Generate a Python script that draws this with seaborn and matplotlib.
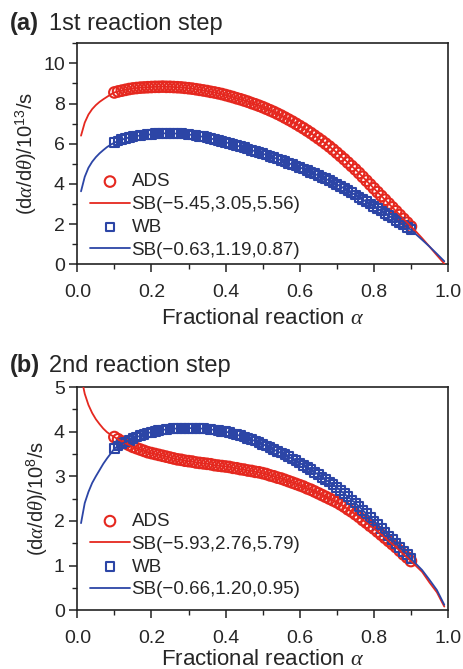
import numpy as np
import pandas as pd
import matplotlib
matplotlib.use("Agg")
import matplotlib.pyplot as plt
from matplotlib.ticker import MultipleLocator, FormatStrFormatter
import seaborn as sns

# ---------------------------------------------------------------------------
# Values
# ---------------------------------------------------------------------------
# marker positions (fractional reaction alpha), 0.10 .. 0.90 every 0.01
alpha = np.round(np.linspace(0.10, 0.90, 81), 2)

# (a) 1st reaction step, rate in 1e13 /s
ads_a = [8.55, 8.60, 8.64, 8.68, 8.72, 8.75, 8.77, 8.79, 8.80, 8.81,
         8.82, 8.83, 8.83, 8.84, 8.83, 8.83, 8.82, 8.81, 8.80, 8.78,
         8.76, 8.74, 8.71, 8.68, 8.65, 8.62, 8.58, 8.55, 8.51, 8.47,
         8.42, 8.37, 8.32, 8.26, 8.21, 8.15, 8.09, 8.02, 7.96, 7.89,
         7.82, 7.74, 7.66, 7.58, 7.49, 7.40, 7.30, 7.20, 7.10, 6.99,
         6.88, 6.77, 6.65, 6.53, 6.40, 6.27, 6.14, 6.00, 5.86, 5.71,
         5.55, 5.39, 5.23, 5.06, 4.89, 4.72, 4.54, 4.35, 4.16, 3.97,
         3.78, 3.59, 3.40, 3.21, 3.02, 2.83, 2.64, 2.45, 2.26, 2.07,
         1.88]
wb_a = [6.05, 6.13, 6.20, 6.26, 6.31, 6.35, 6.38, 6.41, 6.43, 6.45,
        6.47, 6.49, 6.50, 6.51, 6.52, 6.52, 6.51, 6.50, 6.49, 6.48,
        6.46, 6.43, 6.40, 6.37, 6.34, 6.30, 6.26, 6.21, 6.17, 6.12,
        6.07, 6.02, 5.96, 5.91, 5.85, 5.80, 5.74, 5.68, 5.62, 5.56,
        5.50, 5.44, 5.37, 5.31, 5.24, 5.17, 5.10, 5.03, 4.96, 4.89,
        4.82, 4.74, 4.66, 4.58, 4.50, 4.42, 4.33, 4.25, 4.16, 4.07,
        3.98, 3.88, 3.77, 3.67, 3.56, 3.45, 3.34, 3.22, 3.11, 3.00,
        2.88, 2.76, 2.65, 2.53, 2.42, 2.30, 2.18, 2.07, 1.95, 1.84,
        1.72]

# (b) 2nd reaction step, rate in 1e8 /s
ads_b = [3.88, 3.83, 3.78, 3.74, 3.70, 3.66, 3.63, 3.60, 3.57, 3.54,
         3.52, 3.50, 3.48, 3.46, 3.44, 3.42, 3.40, 3.38, 3.37, 3.35,
         3.34, 3.33, 3.31, 3.30, 3.29, 3.28, 3.27, 3.25, 3.24, 3.23,
         3.22, 3.21, 3.19, 3.18, 3.16, 3.15, 3.13, 3.12, 3.10, 3.09,
         3.07, 3.05, 3.02, 3.00, 2.97, 2.95, 2.92, 2.89, 2.86, 2.83,
         2.80, 2.77, 2.73, 2.70, 2.66, 2.62, 2.58, 2.54, 2.50, 2.46,
         2.42, 2.37, 2.32, 2.26, 2.21, 2.15, 2.09, 2.02, 1.96, 1.89,
         1.83, 1.76, 1.69, 1.62, 1.55, 1.48, 1.41, 1.33, 1.25, 1.18,
         1.10]
wb_b = [3.62, 3.68, 3.73, 3.77, 3.81, 3.85, 3.88, 3.91, 3.94, 3.97,
        3.99, 4.01, 4.02, 4.04, 4.05, 4.06, 4.07, 4.07, 4.08, 4.08,
        4.08, 4.08, 4.08, 4.07, 4.07, 4.06, 4.05, 4.04, 4.03, 4.01,
        4.00, 3.98, 3.95, 3.93, 3.91, 3.88, 3.85, 3.82, 3.79, 3.76,
        3.72, 3.68, 3.64, 3.60, 3.56, 3.52, 3.48, 3.44, 3.39, 3.35,
        3.30, 3.25, 3.20, 3.15, 3.09, 3.04, 2.98, 2.92, 2.87, 2.81,
        2.75, 2.68, 2.61, 2.54, 2.47, 2.40, 2.32, 2.24, 2.16, 2.08,
        2.00, 1.92, 1.83, 1.75, 1.66, 1.58, 1.49, 1.41, 1.32, 1.24,
        1.15]

# SB fit curves beyond the measured range (head: alpha < 0.1, tail: alpha > 0.9)
head_alpha = [0.01, 0.02, 0.03, 0.04, 0.05, 0.06, 0.07, 0.08, 0.09]
tail_alpha = [0.91, 0.93, 0.95, 0.97, 0.99]
fit_ads_a_head = [6.40, 7.05, 7.45, 7.72, 7.92, 8.08, 8.21, 8.33, 8.45]
fit_ads_a_tail = [1.70, 1.30, 0.88, 0.45, 0.03]
fit_wb_a_head = [3.63, 4.35, 4.80, 5.10, 5.33, 5.52, 5.68, 5.83, 5.95]
fit_wb_a_tail = [1.55, 1.22, 0.88, 0.52, 0.15]
fit_ads_b_head = [5.25, 4.85, 4.60, 4.42, 4.28, 4.17, 4.07, 3.99, 3.93]
fit_ads_b_tail = [1.02, 0.86, 0.62, 0.40, 0.08]
fit_wb_b_head = [1.95, 2.40, 2.65, 2.85, 3.00, 3.14, 3.28, 3.40, 3.51]
fit_wb_b_tail = [1.07, 0.90, 0.68, 0.45, 0.12]

sb_labels_a = ["SB(\u22125.45,3.05,5.56)", "SB(\u22120.63,1.19,0.87)"]
sb_labels_b = ["SB(\u22125.93,2.76,5.79)", "SB(\u22120.66,1.20,0.95)"]

RED = "#e5281f"
BLUE = "#2c45a6"

# ---------------------------------------------------------------------------
sns.set_theme(style="ticks")
plt.rcParams["font.family"] = ["Liberation Sans", "DejaVu Sans"]
plt.rcParams["mathtext.fontset"] = "custom"
plt.rcParams["mathtext.rm"] = "Liberation Sans"
plt.rcParams["mathtext.it"] = "Liberation Serif:italic"
plt.rcParams["mathtext.bf"] = "Liberation Sans:bold"
FS = 14

fig = plt.figure(figsize=(4.63, 6.69), dpi=100)
ax_a = fig.add_axes([0.167, 0.605, 0.8006, 0.3304])
ax_b = fig.add_axes([0.167, 0.088, 0.8006, 0.3334])


def fit_frame(head, mid, tail):
    return pd.DataFrame({"alpha": head_alpha + list(alpha) + tail_alpha,
                         "rate": head + list(mid) + tail})


def draw_panel(ax, ads, wb, fits, sb_labels, ymax, ymajor, yminor, exp, legy,
               xlpad):
    sns.scatterplot(x=alpha, y=ads, marker="o", s=58, facecolor="none",
                    edgecolor=RED, linewidth=1.5, ax=ax, label="ADS", zorder=3)
    df = fit_frame(*fits[0])
    sns.lineplot(data=df, x="alpha", y="rate", color=RED, lw=1.3,
                 estimator=None, ax=ax, label=sb_labels[0], zorder=4)
    sns.scatterplot(x=alpha, y=wb, marker="s", s=40, facecolor="none",
                    edgecolor=BLUE, linewidth=1.5, ax=ax, label="WB", zorder=3)
    df = fit_frame(*fits[1])
    sns.lineplot(data=df, x="alpha", y="rate", color=BLUE, lw=1.3,
                 estimator=None, ax=ax, label=sb_labels[1], zorder=4)

    ax.set_xlim(0, 1.0)
    ax.set_ylim(0, ymax)
    ax.xaxis.set_major_locator(MultipleLocator(0.2))
    ax.xaxis.set_minor_locator(MultipleLocator(0.1))
    ax.xaxis.set_major_formatter(FormatStrFormatter("%.1f"))
    ax.yaxis.set_major_locator(MultipleLocator(ymajor))
    ax.yaxis.set_minor_locator(MultipleLocator(yminor))
    ax.tick_params(which="major", direction="out", length=6, width=1.1,
                   labelsize=FS, color="#222222")
    ax.tick_params(axis="x", which="major", pad=8)
    ax.tick_params(axis="y", which="major", pad=3)
    ax.tick_params(which="minor", direction="out", length=3.5, width=1.0,
                   color="#222222")
    for sp in ax.spines.values():
        sp.set_visible(True)
        sp.set_linewidth(1.2)
        sp.set_color("#222222")
    ax.set_xlabel(r"Fractional reaction $\alpha$", fontsize=16, labelpad=xlpad)
    ax.set_ylabel(r"(d$\alpha$/d$\theta$)/10$^{%s}$/s" % exp, fontsize=FS + 0.5,
                  labelpad=3)
    ax.legend(loc="lower left", bbox_to_anchor=(0.035, legy),
              frameon=False, fontsize=FS - 0.5, handlelength=2.1,
              handletextpad=0.1, labelspacing=0.3, borderpad=0,
              borderaxespad=0)


draw_panel(ax_a, ads_a, wb_a,
           [(fit_ads_a_head, ads_a, fit_ads_a_tail),
            (fit_wb_a_head, wb_a, fit_wb_a_tail)],
           sb_labels_a, 11, 2, 1, "13", 0.025, 5)
draw_panel(ax_b, ads_b, wb_b,
           [(fit_ads_b_head, ads_b, fit_ads_b_tail),
            (fit_wb_b_head, wb_b, fit_wb_b_tail)],
           sb_labels_b, 5, 1, 0.5, "8", 0.053, 2)

# panel titles
TFS = 17
fig.text(10 / 463, 1 - 30 / 669, "(a)", fontsize=TFS, fontweight="bold",
         va="baseline")
fig.text(49 / 463, 1 - 30 / 669, "1st reaction step", fontsize=TFS,
         va="baseline")
fig.text(10 / 463, 1 - 372 / 669, "(b)", fontsize=TFS, fontweight="bold",
         va="baseline")
fig.text(49 / 463, 1 - 372 / 669, "2nd reaction step", fontsize=TFS,
         va="baseline")

fig.savefig("out.png", dpi=100)
